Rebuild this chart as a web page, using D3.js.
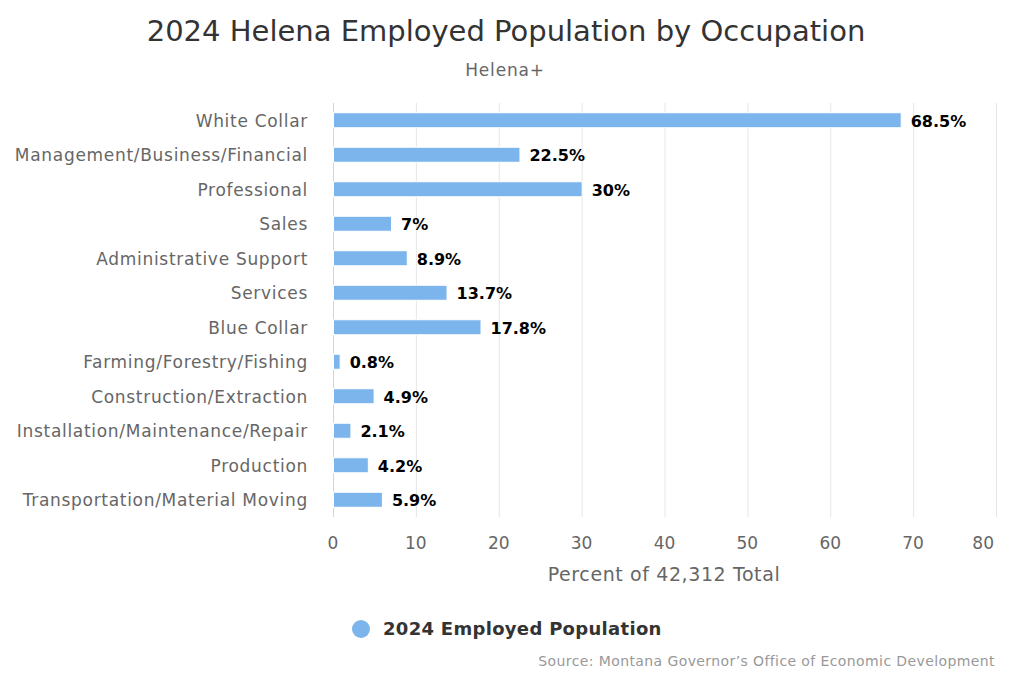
<!DOCTYPE html>
<html lang="en">
<head>
    <meta charset="UTF-8">
    <title>2024 Helena Employed Population by Occupation</title>
    <script src="https://d3js.org/d3.v7.min.js"></script>
    <style>
        body {
            margin: 0;
            padding: 0;
            background-color: #fff;
            font-family: "DejaVu Sans", Arial, sans-serif;
        }
        svg text {
            font-family: "DejaVu Sans", Arial, sans-serif;
        }
    </style>
</head>
<body>
    <svg id="chart" width="1012" height="675"></svg>

    <script>
        // Data
        const categories = [
            'White Collar',
            'Management/Business/Financial',
            'Professional',
            'Sales',
            'Administrative Support',
            'Services',
            'Blue Collar',
            'Farming/Forestry/Fishing',
            'Construction/Extraction',
            'Installation/Maintenance/Repair',
            'Production',
            'Transportation/Material Moving'
        ];
        const values = [68.5, 22.5, 30, 7, 8.9, 13.7, 17.8, 0.8, 4.9, 2.1, 4.2, 5.9];
        const xTicks = [0, 10, 20, 30, 40, 50, 60, 70, 80];
        const seriesName = '2024 Employed Population';

        const width = 1012;
        const plot = { left: 333, right: 996, top: 103, bottom: 517 };
        const barColor = '#7cb5ec';

        const svg = d3.select('#chart');

        const x = d3.scaleLinear()
            .domain([0, 80])
            .range([plot.left, plot.right]);

        const y = d3.scaleBand()
            .domain(categories)
            .range([plot.top, plot.bottom]);

        // Title + subtitle
        svg.append('text')
            .attr('x', 506)
            .attr('y', 41)
            .attr('text-anchor', 'middle')
            .attr('font-size', 29)
            .attr('fill', '#333')
            .text('2024 Helena Employed Population by Occupation');

        svg.append('text')
            .attr('x', 505)
            .attr('y', 76)
            .attr('text-anchor', 'middle')
            .attr('font-size', 17)
            .attr('letter-spacing', 0.8)
            .attr('fill', '#666')
            .text('Helena+');

        // Vertical gridlines
        svg.append('g')
            .selectAll('line')
            .data(xTicks.slice(1))
            .enter()
            .append('line')
            .attr('x1', d => x(d) + 0.5)
            .attr('x2', d => x(d) + 0.5)
            .attr('y1', plot.top)
            .attr('y2', plot.bottom)
            .attr('stroke', '#e6e6e6')
            .attr('stroke-width', 1);

        // Left axis line
        svg.append('line')
            .attr('x1', plot.left + 0.5)
            .attr('x2', plot.left + 0.5)
            .attr('y1', plot.top)
            .attr('y2', plot.bottom)
            .attr('stroke', '#ccd6eb');

        // Category labels
        svg.append('g')
            .selectAll('text')
            .data(categories)
            .enter()
            .append('text')
            .attr('x', plot.left - 25)
            .attr('y', d => y(d) + y.bandwidth() / 2)
            .attr('dy', '0.38em')
            .attr('text-anchor', 'end')
            .attr('font-size', 17)
            .attr('letter-spacing', 0.7)
            .attr('fill', '#666')
            .text(d => d);

        // Bars
        const barH = 15;
        svg.append('g')
            .selectAll('rect')
            .data(values)
            .enter()
            .append('rect')
            .attr('x', plot.left + 0.5)
            .attr('y', (d, i) => y(categories[i]) + (y.bandwidth() - barH) / 2)
            .attr('width', d => x(d) - plot.left)
            .attr('height', barH)
            .attr('fill', barColor)
            .attr('stroke', '#fff')
            .attr('stroke-width', 1);

        // Data labels
        svg.append('g')
            .selectAll('text')
            .data(values)
            .enter()
            .append('text')
            .attr('x', d => x(d) + 10)
            .attr('y', (d, i) => y(categories[i]) + y.bandwidth() / 2)
            .attr('dy', '0.42em')
            .attr('font-size', 16)
            .attr('font-weight', 'bold')
            .attr('fill', '#000')
            .text(d => d + '%');

        // X tick labels (last one kept inside the chart, like the reference)
        svg.append('g')
            .selectAll('text')
            .data(xTicks)
            .enter()
            .append('text')
            .attr('x', (d, i) => i === xTicks.length - 1 ? x(d) - 2 : x(d))
            .attr('y', 549)
            .attr('text-anchor', (d, i) => i === xTicks.length - 1 ? 'end' : 'middle')
            .attr('font-size', 17)
            .attr('fill', '#666')
            .text(d => d);

        // X axis title
        svg.append('text')
            .attr('x', 664)
            .attr('y', 581)
            .attr('text-anchor', 'middle')
            .attr('font-size', 19)
            .attr('letter-spacing', 0.6)
            .attr('fill', '#666')
            .text('Percent of 42,312 Total');

        // Legend
        const legend = svg.append('g');
        legend.append('circle')
            .attr('cx', 361)
            .attr('cy', 629)
            .attr('r', 9)
            .attr('fill', barColor);
        legend.append('text')
            .attr('x', 383)
            .attr('y', 629)
            .attr('dy', '0.36em')
            .attr('font-size', 18)
            .attr('letter-spacing', 0.3)
            .attr('font-weight', 'bold')
            .attr('fill', '#333')
            .text(seriesName);

        // Credits
        svg.append('text')
            .attr('x', 995)
            .attr('y', 666)
            .attr('text-anchor', 'end')
            .attr('font-size', 14)
            .attr('letter-spacing', 0.4)
            .attr('fill', '#999')
            .text('Source: Montana Governor\u2019s Office of Economic Development');
    </script>
</body>
</html>
